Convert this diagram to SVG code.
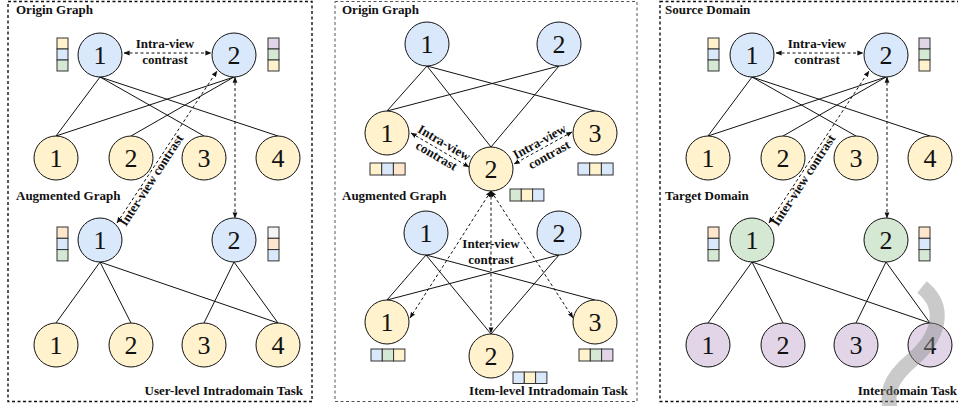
<svg xmlns="http://www.w3.org/2000/svg" width="958" height="406" viewBox="0 0 958 406">
<defs>
  <marker id="ah" viewBox="0 0 8 8" refX="7.5" refY="4" markerWidth="6" markerHeight="6" orient="auto-start-reverse" markerUnits="userSpaceOnUse">
    <path d="M0,0.8 L8,4 L0,7.2 z" fill="#111"/>
  </marker>
</defs>
<style>
  .frame{fill:none;stroke:#111;stroke-width:1.4;stroke-dasharray:3 2.5}
  .frame.thin{stroke:#555;stroke-width:1}
  .node circle{stroke:#111;stroke-width:1}
  .b{fill:#dae8fc}.y{fill:#fff2cc}.g{fill:#d5e8d4}.p{fill:#e1d5e7}.o{fill:#ffe6cc}.w{fill:#f5f5f5}
  .num{font-family:"Liberation Serif","Times New Roman",serif;font-size:26px;text-anchor:middle;fill:#111}
  .lbl{font-family:"Liberation Serif","Times New Roman",serif;font-weight:bold;font-size:13px;fill:#111}
  .mid{text-anchor:middle}.end{text-anchor:end}
  .edge{stroke:#111;stroke-width:1;fill:none}
  .dash{stroke:#111;stroke-width:1;stroke-dasharray:3 2.5;fill:none;marker-start:url(#ah);marker-end:url(#ah)}
  .bar rect{stroke:#333;stroke-width:1}
</style>
<rect width="958" height="406" fill="#fff"/>

<!-- panel frames -->
<rect class="frame" x="8" y="1.5" width="304" height="400"/>
<rect class="frame thin" x="335" y="1.5" width="302" height="400"/>
<rect class="frame" x="660" y="1.5" width="310" height="400"/>

<!-- panel titles -->
<text class="lbl" x="16" y="14">Origin Graph</text>
<text class="lbl" x="16" y="200">Augmented Graph</text>
<text class="lbl end" x="303" y="395">User-level Intradomain Task</text>
<text class="lbl" x="342" y="14">Origin Graph</text>
<text class="lbl" x="342" y="200">Augmented Graph</text>
<text class="lbl end" x="628" y="395">Item-level Intradomain Task</text>
<text class="lbl" x="665" y="14">Source Domain</text>
<text class="lbl" x="665" y="200">Target Domain</text>
<text class="lbl end" x="957" y="395">Interdomain Task</text>

<!-- connectors -->
<g id="connectors">
  <!-- panel 1, origin -->
  <path class="edge" d="M100,77 L56,136 M100,77 L204,136 M100,77 L278,136 M234,77 L56,136 M234,77 L131,136"/>
  <!-- panel 1, augmented -->
  <path class="edge" d="M100,262 L56,323 M100,262 L131,323 M100,262 L278,323 M234,262 L204,323 M234,262 L278,323"/>
  <path class="dash" d="M124,53 L211,53"/>
  <path class="dash" d="M235,77 L235,218"/>
  <path class="dash" d="M117,223 L217,71"/>

  <!-- panel 2, origin -->
  <path class="edge" d="M427,66 L387,111 M427,66 L491,147 M427,66 L595,111 M559,66 L387,111 M559,66 L491,147"/>
  <!-- panel 2, augmented -->
  <path class="edge" d="M426,255 L387,300 M426,255 L491,334 M426,255 L595,300 M559,255 L387,300 M559,255 L491,334"/>
  <path class="dash" d="M411,133 L469,167"/>
  <path class="dash" d="M572,132 L514,164"/>
  <path class="dash" d="M491,191 L410,318"/>
  <path class="dash" d="M491,191 L491,333"/>
  <path class="dash" d="M491,191 L573,318"/>

  <!-- panel 3, source -->
  <path class="edge" d="M752,77 L708,136 M752,77 L856,136 M752,77 L930,136 M886,77 L708,136 M886,77 L783,136"/>
  <!-- panel 3, target -->
  <path class="edge" d="M752,262 L708,323 M752,262 L783,323 M752,262 L930,323 M886,262 L856,323 M886,262 L930,323"/>
  <path class="dash" d="M776,53 L863,53"/>
  <path class="dash" d="M887,77 L887,218"/>
  <path class="dash" d="M769,223 L869,71"/>
</g>

<!-- contrast labels -->
<text class="lbl mid" x="165" y="47.5">Intra-view</text>
<text class="lbl mid" x="165" y="63.5">contrast</text>
<text class="lbl" transform="translate(126,227) rotate(-57)">Inter-view contrast</text>

<g transform="translate(440,150) rotate(30.4)">
  <text class="lbl mid" x="0" y="-4">Intra-view</text>
  <text class="lbl mid" x="0" y="11">contrast</text>
</g>
<g transform="translate(543,148) rotate(-29)">
  <text class="lbl mid" x="0" y="-3">Intra-view</text>
  <text class="lbl mid" x="2" y="13">contrast</text>
</g>
<text class="lbl mid" x="491" y="248">Inter-view</text>
<text class="lbl mid" x="491" y="264">contrast</text>

<text class="lbl mid" x="817" y="47.5">Intra-view</text>
<text class="lbl mid" x="817" y="63.5">contrast</text>
<text class="lbl" transform="translate(778,227) rotate(-57)">Inter-view contrast</text>

<!-- panel 1 nodes -->
<g id="p1-o-u1" class="node"><circle class="b" cx="100" cy="55" r="22"/><text class="num" x="100" y="63.5">1</text></g>
<g id="p1-o-u2" class="node"><circle class="b" cx="234" cy="55" r="22"/><text class="num" x="234" y="63.5">2</text></g>
<g id="p1-o-i1" class="node"><circle class="y" cx="56" cy="158" r="22"/><text class="num" x="56" y="166.5">1</text></g>
<g id="p1-o-i2" class="node"><circle class="y" cx="131" cy="158" r="22"/><text class="num" x="131" y="166.5">2</text></g>
<g id="p1-o-i3" class="node"><circle class="y" cx="204" cy="158" r="22"/><text class="num" x="204" y="166.5">3</text></g>
<g id="p1-o-i4" class="node"><circle class="y" cx="278" cy="158" r="22"/><text class="num" x="278" y="166.5">4</text></g>
<g id="p1-a-u1" class="node"><circle class="b" cx="100" cy="240" r="22"/><text class="num" x="100" y="248.5">1</text></g>
<g id="p1-a-u2" class="node"><circle class="b" cx="234" cy="240" r="22"/><text class="num" x="234" y="248.5">2</text></g>
<g id="p1-a-i1" class="node"><circle class="y" cx="56" cy="345" r="22"/><text class="num" x="56" y="353.5">1</text></g>
<g id="p1-a-i2" class="node"><circle class="y" cx="131" cy="345" r="22"/><text class="num" x="131" y="353.5">2</text></g>
<g id="p1-a-i3" class="node"><circle class="y" cx="204" cy="345" r="22"/><text class="num" x="204" y="353.5">3</text></g>
<g id="p1-a-i4" class="node"><circle class="y" cx="278" cy="345" r="22"/><text class="num" x="278" y="353.5">4</text></g>

<!-- panel 1 feature bars -->
<g id="p1-bar-o1" class="bar"><rect class="y" x="57" y="38" width="11" height="11"/><rect class="b" x="57" y="49" width="11" height="11"/><rect class="g" x="57" y="60" width="11" height="11"/></g>
<g id="p1-bar-o2" class="bar"><rect class="p" x="268" y="38" width="11" height="11"/><rect class="g" x="268" y="49" width="11" height="11"/><rect class="y" x="268" y="60" width="11" height="11"/></g>
<g id="p1-bar-a1" class="bar"><rect class="o" x="57" y="227" width="11" height="11.3"/><rect class="b" x="57" y="238.3" width="11" height="11.3"/><rect class="g" x="57" y="249.6" width="11" height="11.3"/></g>
<g id="p1-bar-a2" class="bar"><rect class="w" x="268" y="227" width="11" height="11.3"/><rect class="o" x="268" y="238.3" width="11" height="11.3"/><rect class="b" x="268" y="249.6" width="11" height="11.3"/></g>

<!-- panel 2 nodes -->
<g id="p2-o-u1" class="node"><circle class="b" cx="427" cy="44" r="22"/><text class="num" x="427" y="52.5">1</text></g>
<g id="p2-o-u2" class="node"><circle class="b" cx="559" cy="44" r="22"/><text class="num" x="559" y="52.5">2</text></g>
<g id="p2-o-i1" class="node"><circle class="y" cx="387" cy="133" r="22"/><text class="num" x="387" y="141.5">1</text></g>
<g id="p2-o-i2" class="node"><circle class="y" cx="491" cy="169" r="22"/><text class="num" x="491" y="177.5">2</text></g>
<g id="p2-o-i3" class="node"><circle class="y" cx="595" cy="133" r="22"/><text class="num" x="595" y="141.5">3</text></g>
<g id="p2-a-u1" class="node"><circle class="b" cx="426" cy="233" r="22"/><text class="num" x="426" y="241.5">1</text></g>
<g id="p2-a-u2" class="node"><circle class="b" cx="559" cy="233" r="22"/><text class="num" x="559" y="241.5">2</text></g>
<g id="p2-a-i1" class="node"><circle class="y" cx="387" cy="322" r="22"/><text class="num" x="387" y="330.5">1</text></g>
<g id="p2-a-i2" class="node"><circle class="y" cx="491" cy="356" r="22"/><text class="num" x="491" y="364.5">2</text></g>
<g id="p2-a-i3" class="node"><circle class="y" cx="595" cy="322" r="22"/><text class="num" x="595" y="330.5">3</text></g>

<!-- panel 2 feature bars -->
<g id="p2-bar-o1" class="bar"><rect class="y" x="370" y="163" width="11.7" height="12"/><rect class="b" x="381.7" y="163" width="11.7" height="12"/><rect class="o" x="393.4" y="163" width="11.7" height="12"/></g>
<g id="p2-bar-o3" class="bar"><rect class="b" x="578" y="163" width="11.7" height="12"/><rect class="y" x="589.7" y="163" width="11.7" height="12"/><rect class="b" x="601.4" y="163" width="11.7" height="12"/></g>
<g id="p2-bar-o2" class="bar"><rect class="g" x="510" y="189" width="11.3" height="12"/><rect class="y" x="521.3" y="189" width="11.3" height="12"/><rect class="b" x="532.6" y="189" width="11.3" height="12"/></g>
<g id="p2-bar-a1" class="bar"><rect class="b" x="371" y="349" width="11.3" height="12"/><rect class="g" x="382.3" y="349" width="11.3" height="12"/><rect class="y" x="393.6" y="349" width="11.3" height="12"/></g>
<g id="p2-bar-a3" class="bar"><rect class="y" x="579" y="349" width="11.3" height="12"/><rect class="g" x="590.3" y="349" width="11.3" height="12"/><rect class="p" x="601.6" y="349" width="11.3" height="12"/></g>
<g id="p2-bar-a2" class="bar"><rect class="b" x="513" y="372" width="11.3" height="11.5"/><rect class="y" x="524.3" y="372" width="11.3" height="11.5"/><rect class="b" x="535.6" y="372" width="11.3" height="11.5"/></g>

<!-- panel 3 nodes -->
<g id="p3-s-u1" class="node"><circle class="b" cx="752" cy="55" r="22"/><text class="num" x="752" y="63.5">1</text></g>
<g id="p3-s-u2" class="node"><circle class="b" cx="886" cy="55" r="22"/><text class="num" x="886" y="63.5">2</text></g>
<g id="p3-s-i1" class="node"><circle class="y" cx="708" cy="158" r="22"/><text class="num" x="708" y="166.5">1</text></g>
<g id="p3-s-i2" class="node"><circle class="y" cx="783" cy="158" r="22"/><text class="num" x="783" y="166.5">2</text></g>
<g id="p3-s-i3" class="node"><circle class="y" cx="856" cy="158" r="22"/><text class="num" x="856" y="166.5">3</text></g>
<g id="p3-s-i4" class="node"><circle class="y" cx="930" cy="158" r="22"/><text class="num" x="930" y="166.5">4</text></g>
<g id="p3-t-u1" class="node"><circle class="g" cx="752" cy="240" r="22"/><text class="num" x="752" y="248.5">1</text></g>
<g id="p3-t-u2" class="node"><circle class="g" cx="886" cy="240" r="22"/><text class="num" x="886" y="248.5">2</text></g>
<g id="p3-t-i1" class="node"><circle class="p" cx="708" cy="345" r="22"/><text class="num" x="708" y="353.5">1</text></g>
<g id="p3-t-i2" class="node"><circle class="p" cx="783" cy="345" r="22"/><text class="num" x="783" y="353.5">2</text></g>
<g id="p3-t-i3" class="node"><circle class="p" cx="856" cy="345" r="22"/><text class="num" x="856" y="353.5">3</text></g>
<g id="p3-t-i4" class="node"><circle class="p" cx="930" cy="345" r="22"/><text class="num" x="930" y="353.5">4</text></g>

<!-- panel 3 feature bars -->
<g id="p3-bar-s1" class="bar"><rect class="y" x="708" y="38" width="11" height="11"/><rect class="b" x="708" y="49" width="11" height="11"/><rect class="g" x="708" y="60" width="11" height="11"/></g>
<g id="p3-bar-s2" class="bar"><rect class="p" x="919" y="38" width="11" height="11"/><rect class="g" x="919" y="49" width="11" height="11"/><rect class="y" x="919" y="60" width="11" height="11"/></g>
<g id="p3-bar-t1" class="bar"><rect class="o" x="708" y="227" width="11" height="11.3"/><rect class="b" x="708" y="238.3" width="11" height="11.3"/><rect class="g" x="708" y="249.6" width="11" height="11.3"/></g>
<g id="p3-bar-t2" class="bar"><rect class="o" x="919" y="227" width="11" height="11.3"/><rect class="b" x="919" y="238.3" width="11" height="11.3"/><rect class="g" x="919" y="249.6" width="11" height="11.3"/></g>

<!-- grey arc over the lower right corner -->
<path d="M922,287 C948,308 938,338 912,360 S888,395 890,410" fill="none" stroke="#8a8a8a" stroke-opacity="0.45" stroke-width="15"/>
</svg>
